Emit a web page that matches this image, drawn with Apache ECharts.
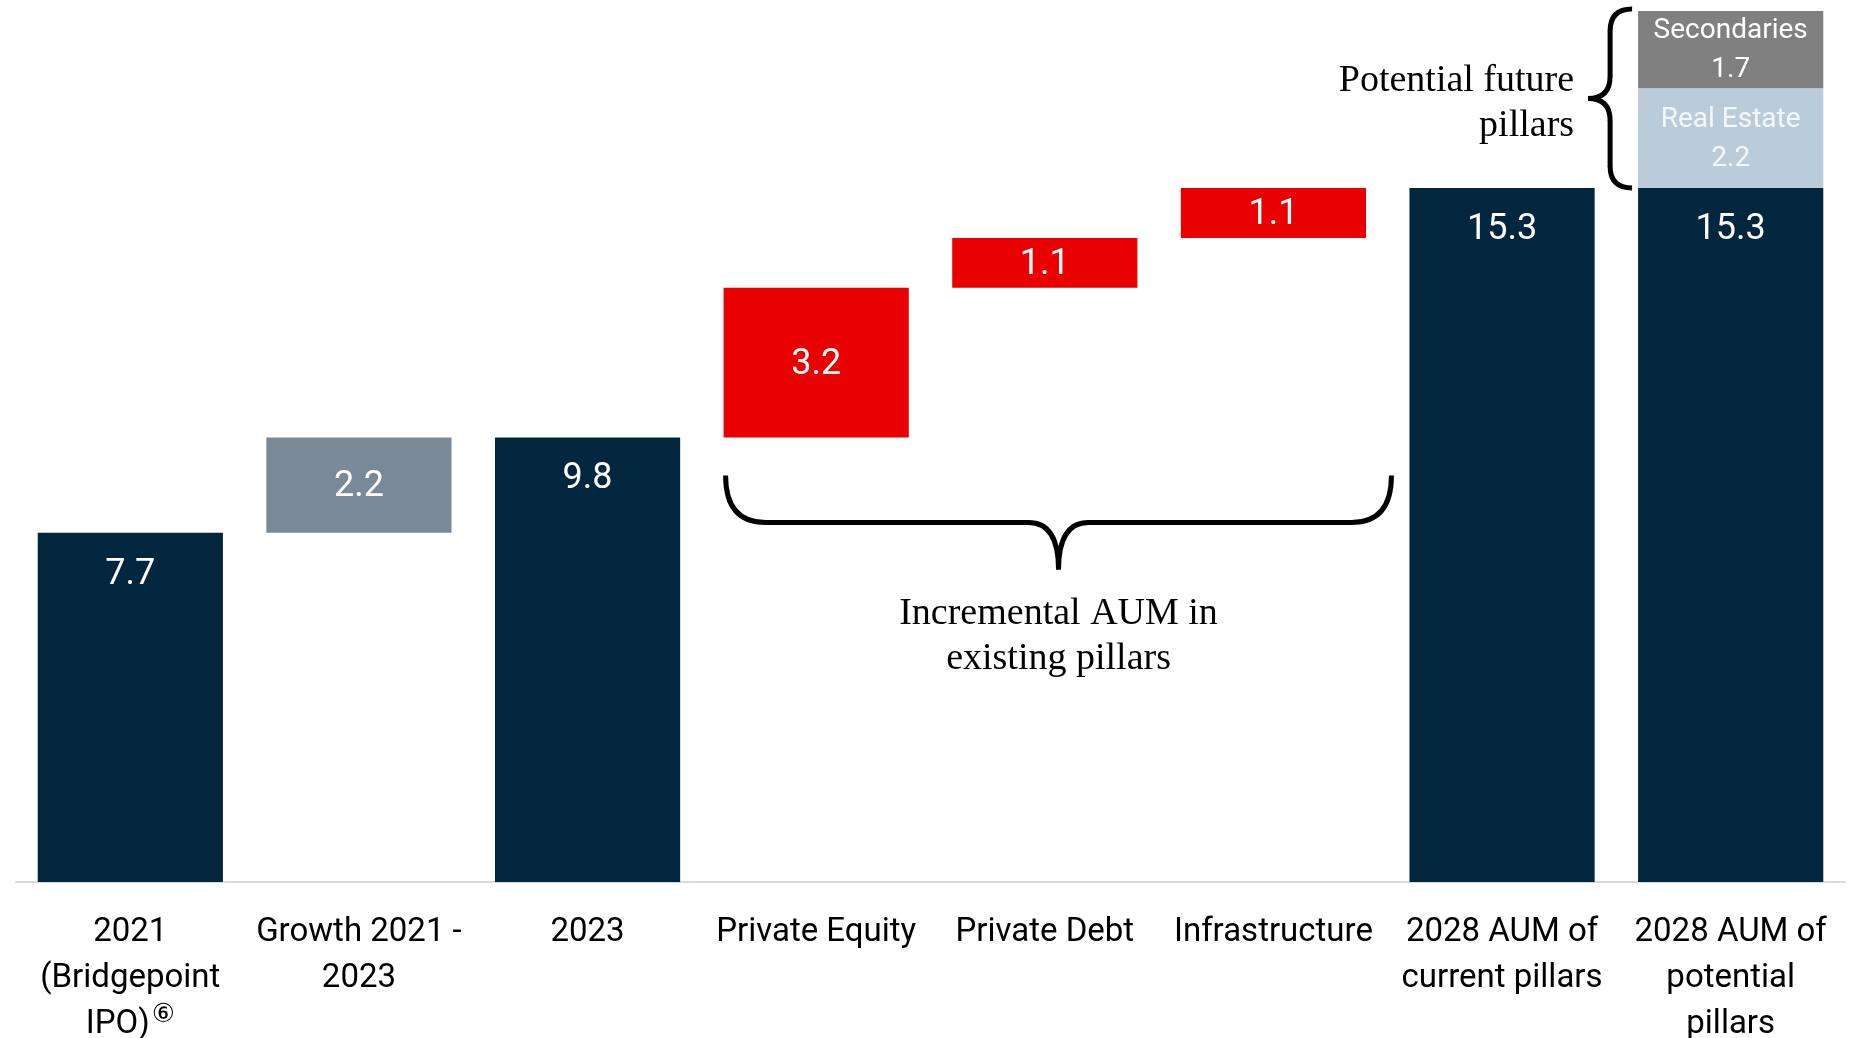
<!DOCTYPE html>
<html><head><meta charset="utf-8">
<script src="https://cdn.jsdelivr.net/npm/echarts@6/dist/echarts.min.js"></script>
<style>html,body{margin:0;padding:0;background:#fff}#main{width:1856px;height:1038px}</style>
</head><body><div id="main"></div>
<script>
// ---- data (AUM, €bn) ----
const categories = ['2021\n(Bridgepoint\nIPO)⑥', 'Growth 2021 -\n2023', '2023', 'Private Equity', 'Private Debt', 'Infrastructure', '2028 AUM of\ncurrent pillars', '2028 AUM of\npotential\npillars'];
const barBase   = [0, 7.7, 0, 9.8, 13.1, 14.2, 0, 0];          // invisible floor of each floating bar
const barHeight = [7.7, 2.1, 9.8, 3.3, 1.1, 1.1, 15.3, 15.3];   // visible height
const barLabels = ['7.7', '2.2', '9.8', '3.2', '1.1', '1.1', '15.3', '15.3'];
const barKinds  = ['total', 'growth', 'total', 'increment', 'increment', 'increment', 'total', 'total'];
const realEstate  = [null, null, null, null, null, null, null, 2.2];
const secondaries = [null, null, null, null, null, null, null, 1.7];

const COLORS = { total: '#03263F', growth: '#798998', increment: '#E90000' };

const chart = echarts.init(document.getElementById('main'), null, { renderer: 'canvas' });

const mainData = barHeight.map((v, i) => {
  const kind = barKinds[i];
  const lbl = kind === 'total'
    ? { position: ['50%', 42], align: 'center', verticalAlign: 'middle' }
    : { position: 'inside', offset: [0, 2] };
  return { value: v, itemStyle: { color: COLORS[kind] }, label: lbl };
});

chart.setOption({
  animation: false,
  backgroundColor: '#fff',
  grid: { left: 16, right: 11, top: 2, bottom: 156, containLabel: false, outerBoundsMode: 'none' },
  xAxis: {
    type: 'category',
    data: categories,
    axisLine: { lineStyle: { color: '#D9D9D9', width: 2 } },
    axisTick: { show: false },
    axisLabel: {
      interval: 0,
      margin: 28,
      color: '#000',
      fontFamily: 'Roboto',
      fontSize: 33,
      lineHeight: 46,
      formatter: v => v.replace('⑥', '{sup|⑥}'),
      rich: { sup: { fontSize: 26, lineHeight: 26, fontFamily: 'DejaVu Sans', color: '#000', verticalAlign: 'top', padding: [0, 0, 0, 2] } }
    }
  },
  yAxis: { type: 'value', min: 0, max: 19.4, show: false, splitLine: { show: false } },
  series: [
    { name: 'base', type: 'bar', stack: 'w', data: barBase, silent: true, barCategoryGap: '19%',
      itemStyle: { color: 'rgba(0,0,0,0)' } },
    { name: 'AUM', type: 'bar', stack: 'w', data: mainData, barCategoryGap: '19%',
      label: { show: true, color: '#fff', fontFamily: 'Roboto', fontSize: 36,
               formatter: p => barLabels[p.dataIndex] } },
    { name: 'Real Estate', type: 'bar', stack: 'w', data: realEstate, barCategoryGap: '19%',
      itemStyle: { color: '#BACCD9' },
      label: { show: true, position: 'inside', offset: [0, 1], color: '#F4F7FA', fontFamily: 'Roboto', fontSize: 28, lineHeight: 39,
               formatter: p => 'Real Estate\n' + p.value.toFixed(1) } },
    { name: 'Secondaries', type: 'bar', stack: 'w', data: secondaries, barCategoryGap: '19%',
      itemStyle: { color: '#808080' },
      label: { show: true, position: 'inside', offset: [0, 1], color: '#fff', fontFamily: 'Roboto', fontSize: 28, lineHeight: 39,
               formatter: p => 'Secondaries\n' + p.value.toFixed(1) } }
  ]
});

// ---- annotations positioned from the axes ----
const px = (i, v) => chart.convertToPixel({ gridIndex: 0 }, [i, v]);
const band = px(1, 0)[0] - px(0, 0)[0];
const half = band * 0.81 / 2;
const n = categories.length - 1;
const stroke = { stroke: '#000', lineWidth: 5, fill: null, lineCap: 'butt' };
const curve = (x1, y1, cx, cy, x2, y2) => ({ type: 'bezierCurve', z: 10,
  shape: { x1, y1, x2, y2, cpx1: cx, cpy1: cy }, style: Object.assign({}, stroke) });
const line = (x1, y1, x2, y2) => ({ type: 'line', z: 10,
  shape: { x1, y1, x2, y2 }, style: Object.assign({}, stroke) });

// top-right brace "{" beside the potential pillars
const topVal = barHeight[n] + realEstate[n] + secondaries[n];
const xArm = px(n, 0)[0] - half - 6;
const xSp = xArm - 22, xTip = xArm - 44;
const yT = px(n, topVal)[1] - 2, yB = px(n, barHeight[n])[1];
const yM = (yT + yB) / 2, r1 = 22;
const brace1 = [
  curve(xArm, yT, xSp, yT, xSp, yT + r1),
  line(xSp, yT + r1 - 0.5, xSp, yM - r1 + 0.5),
  curve(xSp, yM - r1, xSp, yM, xTip, yM),
  curve(xTip, yM, xSp, yM, xSp, yM + r1),
  line(xSp, yM + r1 - 0.5, xSp, yB - r1 + 0.5),
  curve(xSp, yB - r1, xSp, yB, xArm, yB)
];

// bottom brace under the three increment bars
const xL = px(3, 0)[0] - half + 2;
const xR = px(6, 0)[0] - half - 18;
const y0 = px(3, barBase[3])[1] + 38, y1 = y0 + 47, y2 = y1 + 47;
const cx = (xL + xR) / 2, r2 = 40, r3 = 30;
const brace2 = [
  curve(xL, y0, xL, y1, xL + r2, y1),
  line(xL + r2 - 0.5, y1, cx - r3 + 0.5, y1),
  curve(cx - r3, y1, cx, y1, cx, y2),
  curve(cx, y2, cx, y1, cx + r3, y1),
  line(cx + r3 - 0.5, y1, xR - r2 + 0.5, y1),
  curve(xR - r2, y1, xR, y1, xR, y0)
];

chart.setOption({
  graphic: brace1.concat(brace2, [
    { type: 'text', x: xTip - 14, y: yM + 5, z: 10,
      style: { text: 'Potential future\npillars', fill: '#000', font: '38px "Liberation Serif"', lineHeight: 45,
               align: 'right', verticalAlign: 'middle' } },
    { type: 'text', x: cx, y: y2 + 22, z: 10,
      style: { text: 'Incremental AUM in\nexisting pillars', fill: '#000', font: '38px "Liberation Serif"', lineHeight: 45,
               align: 'center', verticalAlign: 'top' } }
  ])
});
</script>
</body></html>
